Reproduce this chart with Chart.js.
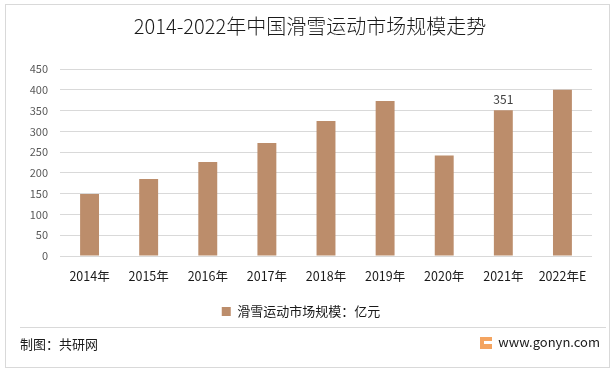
<!DOCTYPE html>
<html>
<head>
<meta charset="utf-8">
<script src="https://cdn.jsdelivr.net/npm/chart.js@4/dist/chart.umd.min.js"></script>
<style>
    html, body { margin: 0; padding: 0; background: #fff; }
    #wrap { width: 616px; height: 373px; position: relative; }
</style>
</head>
<body>
<div id="wrap"><canvas id="chart" width="616" height="373"></canvas></div>
<script>
const years = ['2014年', '2015年', '2016年', '2017年', '2018年', '2019年', '2020年', '2021年', '2022年E'];
const marketSize = [149, 185, 226, 272, 325, 373, 242, 351, 400];
const labelledYears = ['2021年'];
const yTicks = [0, 50, 100, 150, 200, 250, 300, 350, 400, 450];

const FONT = '"Noto Sans CJK SC", "Noto Sans", sans-serif';

// frame, title, value label and footer
const decor = {
    id: 'decor',
    beforeDraw(chart) {
        const ctx = chart.ctx;
        ctx.save();
        ctx.fillStyle = '#ffffff';
        ctx.fillRect(0, 0, chart.width, chart.height);
        ctx.strokeStyle = '#d9d9d9';
        ctx.lineWidth = 1;
        ctx.strokeRect(5.5, 4.5, 604, 363);
        ctx.restore();
    },
    afterDraw(chart) {
        const ctx = chart.ctx;
        ctx.save();
        ctx.fillStyle = '#1a1a1a';
        ctx.font = '300 20px ' + FONT;
        ctx.textAlign = 'center';
        ctx.textBaseline = 'middle';
        ctx.fillText('2014-2022年中国滑雪运动市场规模走势', 310, 26);

        // value label above chosen bars
        const meta = chart.getDatasetMeta(0);
        ctx.font = '12px ' + FONT;
        ctx.fillStyle = '#404040';
        ctx.textBaseline = 'bottom';
        labelledYears.forEach(y => {
            const i = years.indexOf(y);
            const bar = meta.data[i];
            ctx.fillText(String(marketSize[i]), bar.x, bar.y - 5);
        });

        // separator and footer
        ctx.strokeStyle = '#d9d9d9';
        ctx.beginPath();
        ctx.moveTo(20, 327.5);
        ctx.lineTo(606, 327.5);
        ctx.stroke();

        ctx.fillStyle = '#1a1a1a';
        ctx.font = '13px ' + FONT;
        ctx.textAlign = 'left';
        ctx.textBaseline = 'middle';
        ctx.fillText('制图：共研网', 20, 344);

        ctx.fillStyle = '#f4a460';
        ctx.fillRect(480, 337, 12, 12);
        ctx.fillStyle = '#ffffff';
        ctx.fillRect(484, 341, 8, 3);
        ctx.fillStyle = '#1a1a1a';
        ctx.textAlign = 'right';
        ctx.fillText('www.gonyn.com', 600, 342);
        ctx.restore();
    }
};

new Chart(document.getElementById('chart'), {
    type: 'bar',
    data: {
        labels: years,
        datasets: [{
            label: '滑雪运动市场规模：亿元',
            data: marketSize,
            backgroundColor: '#bc8d6b',
            categoryPercentage: 1,
            barPercentage: 0.32,
        }],
    },
    options: {
        responsive: false,
        animation: false,
        layout: { padding: { left: 10, right: 24, top: 69, bottom: 45 } },
        plugins: {
            title: { display: false },
            tooltip: { enabled: false },
            legend: {
                position: 'bottom',
                labels: {
                    boxWidth: 9,
                    boxHeight: 9,
                    padding: 4,
                    color: '#1a1a1a',
                    font: { family: FONT, size: 13 },
                },
            },
        },
        scales: {
            x: {
                grid: { display: false },
                border: { display: false },
                ticks: { color: '#1a1a1a', font: { family: FONT, size: 12.5 }, padding: 5, maxRotation: 0, autoSkip: false },
                afterFit: s => { s.height = 45; },
            },
            y: {
                min: 0,
                max: 450,
                afterBuildTicks: s => { s.ticks = yTicks.map(v => ({ value: v })); },
                grid: { color: '#d9d9d9', drawTicks: false },
                border: { display: false },
                ticks: { color: '#595959', font: { family: FONT, size: 11 }, padding: 12 },
                afterFit: s => { s.width = 50; },
            },
        },
    },
    plugins: [decor],
});
</script>
</body>
</html>
